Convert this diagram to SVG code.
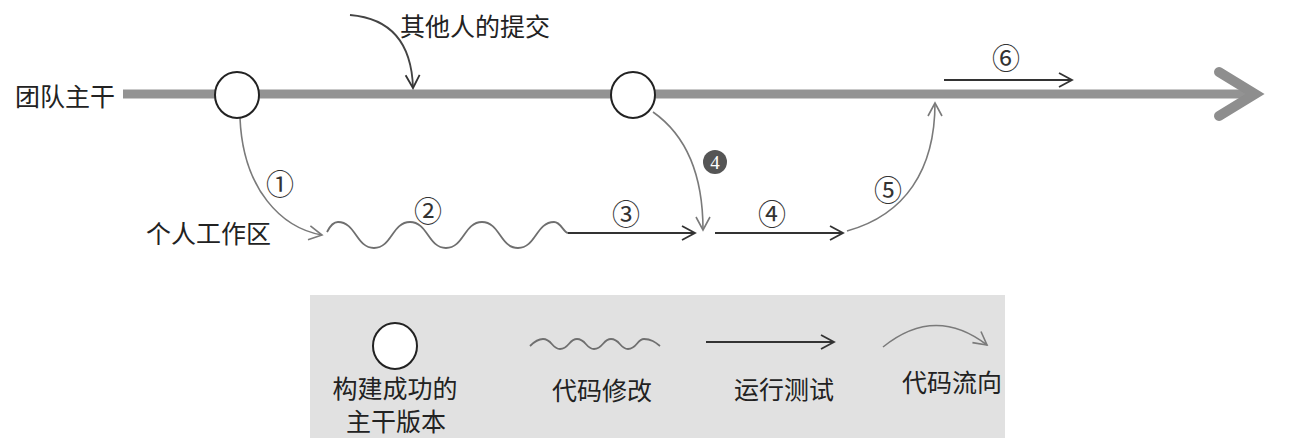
<svg xmlns="http://www.w3.org/2000/svg" width="1292" height="448" viewBox="0 0 1292 448">
  <style>
    .lbl { font-family: "Noto Sans CJK SC", "Noto Sans", sans-serif; font-size: 25px; fill: #222; dominant-baseline: central; }
    .num { font-family: "Noto Sans CJK SC", "DejaVu Sans", sans-serif; font-size: 28px; fill: #333; text-anchor: middle; dominant-baseline: central; }
    .trunk { stroke: #939393; stroke-width: 9; fill: none; }
    .head { stroke: #8e8e8e; stroke-width: 10; fill: none; stroke-linecap: round; stroke-linejoin: miter; }
    .node { fill: #fff; stroke: #222; stroke-width: 2; }
    .flow { stroke: #7a7a7a; stroke-width: 1.6; fill: none; marker-end: url(#arrG); }
    .run { stroke: #333; stroke-width: 2; fill: none; marker-end: url(#arrD); }
    .wave { stroke: #6f6f6f; stroke-width: 1.8; fill: none; }
    .other { stroke: #444; stroke-width: 1.8; fill: none; marker-end: url(#arrD); }
  </style>
  <defs>
    <marker id="arrD" viewBox="0 0 16 16" refX="14" refY="8" markerWidth="16" markerHeight="16" markerUnits="userSpaceOnUse" orient="auto" overflow="visible">
      <path d="M1,1 L14,8 L1,15" fill="none" stroke="#333" stroke-width="1.8"/>
    </marker>
    <marker id="arrG" viewBox="0 0 16 16" refX="14" refY="8" markerWidth="16" markerHeight="16" markerUnits="userSpaceOnUse" orient="auto" overflow="visible">
      <path d="M1,1 L14,8 L1,15" fill="none" stroke="#7a7a7a" stroke-width="1.6"/>
    </marker>
  </defs>

  <rect x="0" y="0" width="1292" height="448" fill="#fff"/>

  <!-- trunk -->
  <g id="trunk">
    <line class="trunk" x1="123" y1="94" x2="1250" y2="94"/>
    <path class="head" d="M1219,72 L1255,94 L1219,116"/>
    <text class="lbl" x="15" y="95">团队主干</text>
  </g>

  <g id="other-commit-label">
    <text class="lbl" x="400" y="25">其他人的提交</text>
  </g>

  <g id="workspace-label">
    <text class="lbl" x="146" y="232">个人工作区</text>
  </g>

  <!-- connectors -->
  <g id="connectors">
    <path id="c-other" class="other" d="M350,15 Q411,20 413,88"/>
    <path id="c1" class="flow" d="M240,118 C243,190 282,228 322,235"/>
    <path id="c2-wave" class="wave" d="M327,232 C330,226 333,222 338,222 C356,222 356,248 374,248 C392,248 392,222 410,222 C428,222 428,248 446,248 C464,248 464,222 482,222 C500,222 500,248 518,248 C536,248 536,222 554,222 C561,222 563,232 568,233"/>
    <line id="c3" class="run" x1="568" y1="233" x2="695" y2="233"/>
    <path id="c4b" class="flow" d="M653,112 C690,138 703,180 703,230"/>
    <line id="c4" class="run" x1="715" y1="233" x2="843" y2="233"/>
    <path id="c5" class="flow" d="M847,231 C905,215 935,170 935,103"/>
    <line id="c6" class="run" x1="944" y1="80" x2="1072" y2="80"/>
  </g>

  <!-- trunk builds -->
  <g id="build1">
    <ellipse class="node" cx="237" cy="95" rx="22" ry="23"/>
  </g>
  <g id="build2">
    <ellipse class="node" cx="633" cy="95" rx="22" ry="23"/>
  </g>

  <!-- step labels -->
  <g id="step-labels">
    <text class="num" x="280" y="183">①</text>
    <text class="num" x="428" y="210">②</text>
    <text class="num" x="626" y="213">③</text>
    <text class="num" x="772" y="213">④</text>
    <text class="num" x="888" y="189">⑤</text>
    <text class="num" x="1006" y="57">⑥</text>
    <g id="step4b">
      <circle cx="715" cy="162" r="12" fill="#555"/>
      <text x="715" y="162" font-family="Liberation Serif, serif" font-size="19" fill="#fff" text-anchor="middle" dominant-baseline="central">4</text>
    </g>
  </g>

  <!-- legend -->
  <g id="legend">
    <rect x="310" y="295" width="695" height="143" fill="#e1e1e1"/>
    <g id="legend-build">
      <ellipse class="node" cx="395" cy="346" rx="22" ry="23"/>
      <text class="lbl" x="395" y="387" text-anchor="middle">构建成功的</text>
      <text class="lbl" x="396" y="420" text-anchor="middle">主干版本</text>
    </g>
    <g id="legend-change">
      <path class="wave" d="M530,346 C535,341 538,339 543,339 C552,339 552,349 560,349 C569,349 569,339 577,339 C586,339 586,349 594,349 C603,349 603,339 611,339 C620,339 620,349 628,349 C637,349 637,339 644,339 C651,339 655,342 660,346"/>
      <text class="lbl" x="602" y="389" text-anchor="middle">代码修改</text>
    </g>
    <g id="legend-test">
      <line class="run" x1="706" y1="342" x2="834" y2="342"/>
      <text class="lbl" x="784" y="388" text-anchor="middle">运行测试</text>
    </g>
    <g id="legend-flow">
      <path class="flow" d="M883,347 Q935,305 987,345"/>
      <text class="lbl" x="952" y="381" text-anchor="middle">代码流向</text>
    </g>
  </g>
</svg>
